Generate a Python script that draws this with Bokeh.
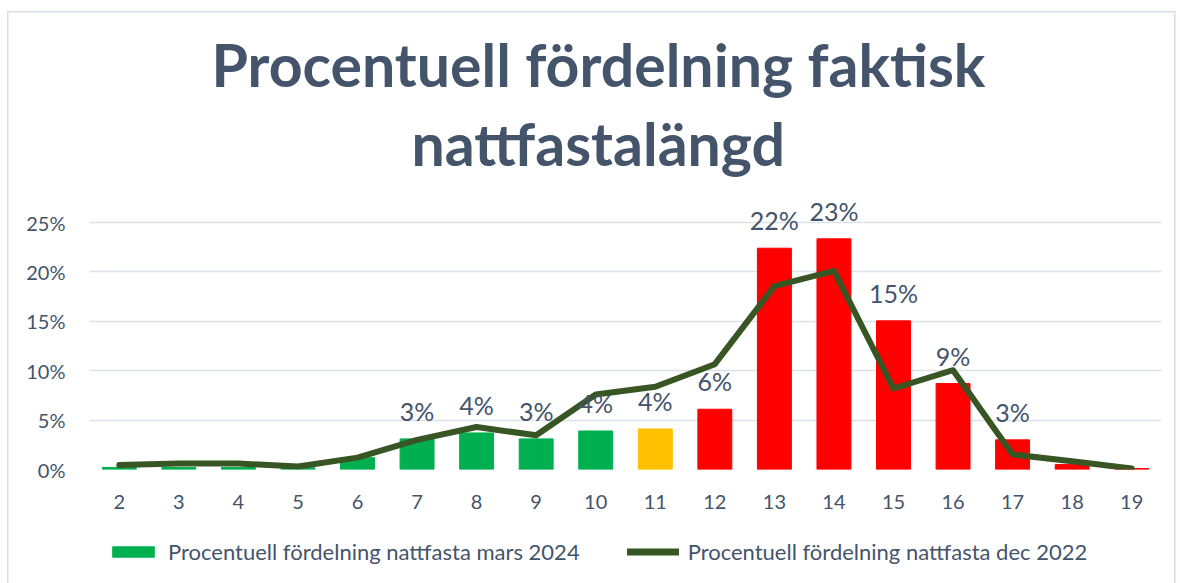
from bokeh.plotting import figure
from bokeh.layouts import column
from bokeh.models import (ColumnDataSource, FixedTicker, NumeralTickFormatter, Legend,
                          LegendItem, LabelSet, Title, Range1d)
from bokeh.core.properties import value
from bokeh.embed import file_html
from bokeh.resources import INLINE

categories = list(range(2, 20))
mars_2024 = [0.002, 0.002, 0.002, 0.0017, 0.012, 0.031, 0.037, 0.031, 0.039, 0.041,
             0.061, 0.224, 0.2335, 0.1505, 0.087, 0.030, 0.005, 0.001]
dec_2022 = [0.0045, 0.006, 0.006, 0.003, 0.012, 0.030, 0.043, 0.0346, 0.076, 0.0837,
            0.1066, 0.1856, 0.201, 0.082, 0.1005, 0.0152, 0.0084, 0.001]
bar_labels = ["", "", "", "", "", "3%", "4%", "3%", "4%", "4%",
              "6%", "22%", "23%", "15%", "9%", "3%", "", ""]
bar_colors = ["#00B050"] * 9 + ["#FFC000"] + ["#FF0000"] * 8
y_ticks = [0, 0.05, 0.10, 0.15, 0.20, 0.25]
series_names = ["Procentuell fördelning nattfasta mars 2024",
                "Procentuell fördelning nattfasta dec 2022"]

TXT = "#44546A"
FONT = "Lato"
GREEN = "#00B050"
LINE = "#375623"
EDGE = "#D9DEE5"

src = ColumnDataSource(dict(x=categories, bars=mars_2024, line=dec_2022,
                            lbl=bar_labels, color=bar_colors))

p = figure(width=1180, height=530, output_backend="svg", toolbar_location=None,
           x_range=Range1d(1.5, 19.5), y_range=Range1d(0, 0.2885),
           min_border_left=89, min_border_right=19, min_border_bottom=61,
           min_border_top=184)
p.outline_line_color = None
p.background_fill_color = "white"
p.border_fill_color = None

p.xgrid.grid_line_color = None
p.ygrid.grid_line_color = "#DCE1E8"
p.ygrid.grid_line_width = 1.5

p.yaxis.ticker = FixedTicker(ticks=y_ticks)
p.yaxis.formatter = NumeralTickFormatter(format="0%")
p.xaxis.ticker = FixedTicker(ticks=categories)
for ax in (p.xaxis[0], p.yaxis[0]):
    ax.axis_line_color = None
    ax.major_tick_line_color = None
    ax.minor_tick_line_color = None
    ax.major_label_text_font = FONT
    ax.major_label_text_font_size = "20px"
    ax.major_label_text_color = TXT
p.yaxis.major_label_standoff = 18
p.xaxis.major_label_standoff = 19

p.vbar(x="x", top="bars", width=0.57, color="color", source=src)
p.line(x="x", y="line", source=src, line_width=6, line_color=LINE,
       line_join="round", line_cap="round")

labels = LabelSet(x="x", y="bars", text="lbl", source=src, y_offset=13,
                  text_align="center", text_baseline="bottom",
                  text_font=value(FONT), text_font_size=value("25px"), text_color=value(TXT))
p.add_layout(labels)

p.add_layout(Title(text="nattfastalängd", align="left", offset=322, standoff=12,
                   text_font=FONT, text_font_size="59px", text_font_style="bold",
                   text_color=TXT), "above")
p.add_layout(Title(text="Procentuell fördelning faktisk", align="left", offset=122,
                   standoff=0,
                   text_font=FONT, text_font_size="59px", text_font_style="bold",
                   text_color=TXT), "above")

# legend strip below the chart (its glyphs draw the same data off-range, so only the legend shows)
lf = figure(width=1180, height=53, output_backend="svg", toolbar_location=None,
            x_range=Range1d(100, 101), y_range=Range1d(100, 101),
            x_axis_location=None, y_axis_location=None,
            min_border=0, min_border_left=0, min_border_right=0,
            min_border_top=0, min_border_bottom=0)
lf.grid.visible = False
lf.outline_line_color = None
lf.border_fill_color = None
lf.background_fill_color = None
lb = lf.vbar(x="x", top="bars", width=0.57, source=src, fill_color=GREEN, line_color=GREEN)
ll = lf.line(x="x", y="line", source=src, line_width=7, line_color=LINE, line_cap="round")
legend = Legend(items=[
    LegendItem(label=series_names[0], renderers=[lb]),
    LegendItem(label=series_names[1], renderers=[ll]),
], orientation="horizontal", location=(18, 18), padding=0, margin=0, spacing=47,
    label_standoff=9, glyph_width=52, glyph_height=13, border_line_color=None,
    background_fill_alpha=0, label_text_font=FONT, label_text_font_size="22px",
    label_text_color=TXT)
lf.add_layout(legend)

layout = column(p, lf, spacing=0)
layout.styles = {
    "background": (f"linear-gradient({EDGE},{EDGE}) 7px 11px / 1.5px 100% no-repeat, "
                   f"linear-gradient({EDGE},{EDGE}) 7px 11px / 1168px 1.5px no-repeat, "
                   f"linear-gradient({EDGE},{EDGE}) 1174px 11px / 1.5px 100% no-repeat, "
                   "white"),
}
open("out.html", "w").write(file_html(layout, INLINE))
